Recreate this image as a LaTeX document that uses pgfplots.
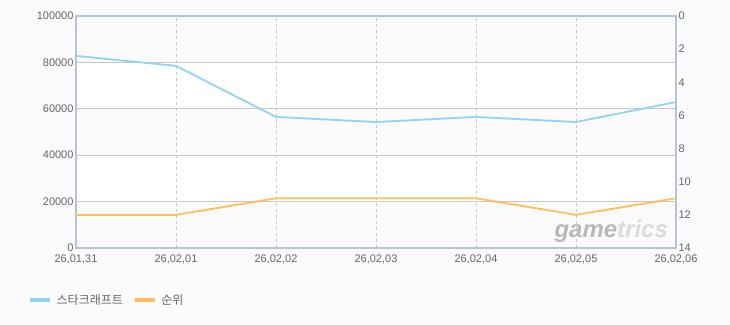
\documentclass[border=0pt]{standalone}
\usepackage{fontspec}
\setmainfont{Liberation Sans}
\newfontfamily\cjk{Noto Sans CJK KR}
\usepackage{pgfplots}
\pgfplotsset{compat=1.18}
\definecolor{bgc}{HTML}{FBFBFB}
\definecolor{frame}{HTML}{B3C5D8}
\definecolor{gridc}{HTML}{C8C8C8}
\definecolor{txt}{HTML}{666666}
\definecolor{blueL}{HTML}{92D2F2}
\definecolor{orangeL}{HTML}{FFBF5E}
\begin{document}
\begin{tikzpicture}
\fill[bgc] (0,0) rectangle (730bp,325bp);
\begin{axis}[
  at={(76bp,77bp)}, anchor=south west,
  width=600bp, height=232bp, scale only axis,
  xmin=0, xmax=6, ymin=0, ymax=100000, hide axis,
]
\fill[white] (rel axis cs:0,0.2) rectangle (rel axis cs:1,0.4);
\fill[white] (rel axis cs:0,0.6) rectangle (rel axis cs:1,0.8);
\end{axis}
\begin{axis}[
  at={(76bp,77bp)}, anchor=south west,
  width=600bp, height=232bp, scale only axis,
  xmin=0, xmax=6, ymin=0, ymax=100000,
  xtick={0,...,6},
  xticklabels={{26,01,31},{26,02,01},{26,02,02},{26,02,03},{26,02,04},{26,02,05},{26,02,06}},
  ytick={0,20000,...,100000},
  scaled y ticks=false,
  /pgf/number format/fixed, /pgf/number format/1000 sep={},
  /pgf/number format/assume math mode=true,
  tick label style={font=\fontsize{11bp}{13bp}\selectfont, text=txt},
  xticklabel style={yshift=-3bp},
  yticklabel style={xshift=1bp},
  major tick length=0pt,
  axis line style={frame, line width=1.6bp},
  ymajorgrids, xmajorgrids,
  grid style={gridc, line width=0.8bp},
  x grid style={gridc, dashed, line width=0.7bp},
  legend style={at={(-0.085,-0.224)}, anchor=west, draw=none, fill=none,
    font=\cjk\fontsize{12bp}{14bp}\selectfont, text=txt,
    legend columns=2, column sep=3bp,
    /tikz/every even column/.append style={column sep=8bp}},
  legend image code/.code={\draw[#1, line width=3.5bp] (0bp,0bp) -- (20bp,0bp);},
]
\node[font=\bfseries\itshape\fontsize{24bp}{26bp}\selectfont, text=gray!55, inner sep=0pt]
  at (rel axis cs:0.892,0.073) {game\textcolor{gray!28}{trics}};
\addplot[blueL, line width=1.8bp] coordinates {
 (0,82800) (1,78500) (2,56500) (3,54300) (4,56500) (5,54300) (6,62900)};
\addlegendentry{스타크래프트}
\addlegendimage{orangeL}
\addlegendentry{순위}
\end{axis}
\begin{axis}[
  at={(76bp,77bp)}, anchor=south west,
  width=600bp, height=232bp, scale only axis,
  xmin=0, xmax=6, ymin=0, ymax=14, y dir=reverse,
  axis y line*=right, axis x line=none,
  ytick={0,2,...,14},
  /pgf/number format/assume math mode=true,
  tick label style={font=\fontsize{11bp}{13bp}\selectfont, text=txt},
  major tick length=0pt,
  yticklabel style={xshift=-1bp},
  axis line style={frame, line width=1.6bp},
]
\addplot[orangeL, line width=1.8bp] coordinates {
 (0,12) (1,12) (2,11) (3,11) (4,11) (5,12) (6,11)};
\end{axis}
\end{tikzpicture}
\end{document}
